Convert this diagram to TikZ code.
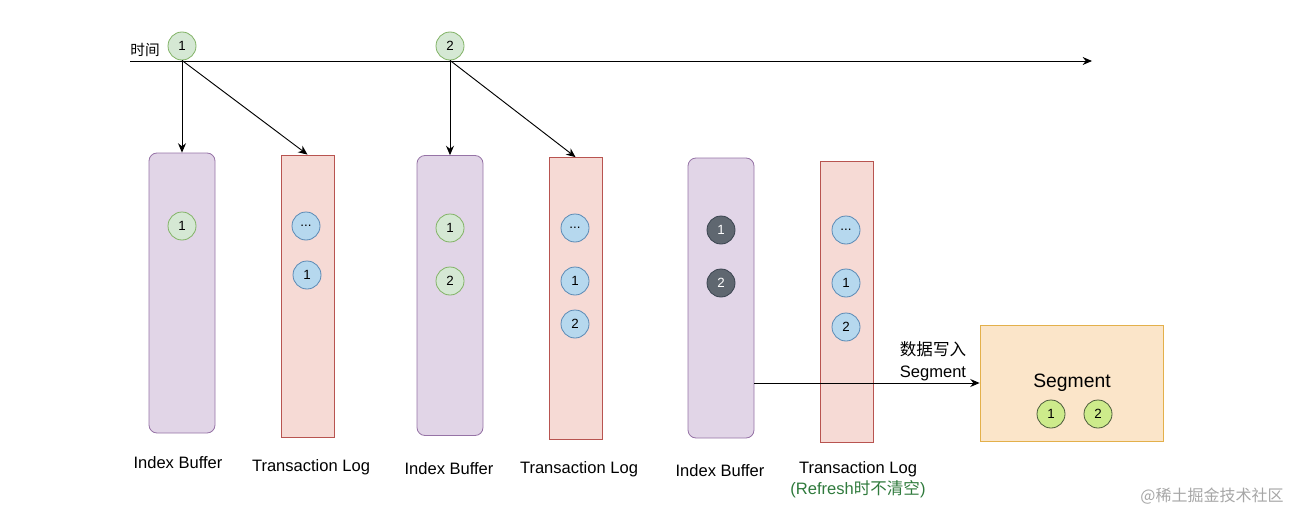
\documentclass[tikz,border=0pt]{standalone}
\usepackage{fontspec}
\setmainfont{Liberation Sans}
\newfontfamily\cjk{Noto Sans CJK SC}
\usetikzlibrary{arrows.meta}
\definecolor{gfill}{HTML}{D5E8D4}
\definecolor{gdraw}{HTML}{82B366}
\definecolor{bfill}{HTML}{B6D8EE}
\definecolor{bdraw}{HTML}{5B8AB5}
\definecolor{dfill}{HTML}{5F6770}
\definecolor{ddraw}{HTML}{3A4450}
\definecolor{pfill}{HTML}{E1D5E7}
\definecolor{pdraw}{HTML}{9673A6}
\definecolor{rfill}{HTML}{F6DAD5}
\definecolor{rdraw}{HTML}{B85450}
\definecolor{sfill}{HTML}{FBE5C9}
\definecolor{sdraw}{HTML}{E3B04B}
\definecolor{lfill}{HTML}{CDEB8B}
\definecolor{ldraw}{HTML}{4A5A3A}
\definecolor{notegreen}{HTML}{2F7A3C}
\tikzset{
  dot/.style={circle, minimum size=21pt, inner sep=0pt, font=\fontsize{10}{11}\selectfont, line width=0.6pt},
  gdot/.style={dot, fill=gfill, draw=gdraw},
  bdot/.style={dot, fill=bfill, draw=bdraw},
  ddot/.style={dot, fill=dfill, draw=ddraw, text=white},
  ldot/.style={dot, fill=lfill, draw=ldraw},
  ibuf/.style={rectangle, rounded corners=6pt, fill=pfill, draw=pdraw, minimum width=49.5pt, minimum height=210pt, line width=0.6pt},
  tlog/.style={rectangle, fill=rfill, draw=rdraw, minimum width=39.75pt, minimum height=211.5pt, line width=0.6pt},
  lbl/.style={font=\fontsize{12.4}{14}\selectfont, inner sep=0pt},
  conn/.style={-{Stealth[length=7pt,width=6pt]}, line width=0.7pt}
}
\begin{document}
\begin{tikzpicture}[x=0.75pt,y=-0.75pt]
\useasboundingbox (0,0) rectangle (1304,521);
% time axis
\coordinate (axs) at (130,61);
\coordinate (axe) at (1092,61);
\draw[conn] (axs) -- (axe);
\node[lbl, font=\cjk\fontsize{11}{12}\selectfont] (tlabel) at (145,50) {时间};
\node[gdot] (t1) at (182,46) {1};
\node[gdot] (t2) at (450,46) {2};
% buffers and logs
\node[ibuf] (ib1) at (182,293) {};
\node[tlog] (tl1) at (307.5,296) {};
\node[ibuf] (ib2) at (450,295.5) {};
\node[tlog] (tl2) at (575.5,298.5) {};
\node[ibuf] (ib3) at (721,298) {};
\node[tlog, minimum height=210.75pt] (tl3) at (846.5,301.5) {};
% segment
\node[rectangle, fill=sfill, draw=sdraw, minimum width=137.25pt, minimum height=87pt, line width=0.6pt] (seg) at (1071.5,383) {};
\node[font=\fontsize{14.5}{16}\selectfont, inner sep=0pt] (segt) at (1072,383) {Segment};
\node[ldot] (s1) at (1051,414) {1};
\node[ldot] (s2) at (1098,414) {2};
% arrows from time points
\draw[conn] (t1.south) -- (ib1.north);
\draw[conn] (t1.south) -- (tl1.north);
\draw[conn] (t2.south) -- (ib2.north);
\draw[conn] (t2.south) -- (tl2.north);
% dots inside
\node[gdot] (a1) at (182,226) {1};
\node[bdot] (b0) at (306,226) {...};
\node[bdot] (b1) at (307,275) {1};
\node[gdot] (c1) at (450,228) {1};
\node[gdot] (c2) at (450,281) {2};
\node[bdot] (d0) at (575,228) {...};
\node[bdot] (d1) at (575,281) {1};
\node[bdot] (d2) at (575,324) {2};
\node[ddot] (e1) at (721,230) {1};
\node[ddot] (e2) at (721,283) {2};
\node[bdot] (f0) at (846,230) {...};
\node[bdot] (f1) at (846,283) {1};
\node[bdot] (f2) at (846,327) {2};
% write to segment
\draw[conn] (ib3.east |- seg.west) -- (seg.west);
\node[align=center, font=\fontsize{12.4}{16.5}\selectfont, inner sep=0pt] (wlbl) at (933,361) {{\cjk 数据写入}\\Segment};
% labels
\node[lbl] (l1) at (178,463) {Index Buffer};
\node[lbl] (l2) at (311,467) {Transaction Log};
\node[lbl] (l3) at (449,469) {Index Buffer};
\node[lbl] (l4) at (579,469) {Transaction Log};
\node[lbl] (l5) at (720,471) {Index Buffer};
\node[lbl] (l6) at (858,469) {Transaction Log};
\node[lbl, text=notegreen] (l7) at (858,489) {(Refresh{\cjk 时不清空})};
\node[font=\cjk\fontsize{12}{14}\selectfont, text=black!35, inner sep=0pt] (wm) at (1212,496) {@稀土掘金技术社区};
\end{tikzpicture}
\end{document}
